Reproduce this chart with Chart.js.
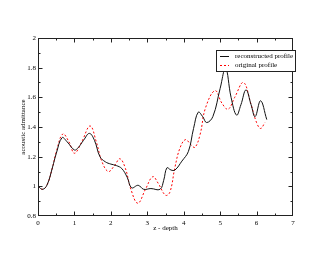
<!DOCTYPE html>
<html><head><meta charset="utf-8">
<script src="https://cdn.jsdelivr.net/npm/chart.js@4"></script>
<style>html,body{margin:0;padding:0;background:#fff}#wrap{width:330px;height:255px}</style>
</head><body><div id="wrap"><canvas id="c" width="330" height="255"></canvas></div>
<script>
const xTicks = [0,1,2,3,4,5,6,7];
const yTicks = [0.8,1,1.2,1.4,1.6,1.8,2];
const reconZ = [0,0.13,0.25,0.4,0.5,0.66,0.8,1.0,1.1,1.25,1.41,1.55,1.7,1.85,2.0,2.15,2.3,2.45,2.57,2.75,2.9,3.1,3.35,3.45,3.54,3.65,3.76,3.95,4.13,4.27,4.4,4.52,4.63,4.8,5.0,5.15,5.3,5.45,5.57,5.71,5.85,5.96,6.11,6.28];
const reconV = [1.0,0.98,1.01,1.13,1.22,1.328,1.30,1.245,1.26,1.31,1.357,1.31,1.2,1.165,1.15,1.14,1.12,1.06,0.99,1.007,0.98,0.985,0.98,1.04,1.125,1.11,1.11,1.17,1.236,1.39,1.50,1.47,1.43,1.47,1.66,1.796,1.60,1.48,1.55,1.65,1.55,1.47,1.577,1.45];
const origZ = [0,0.13,0.25,0.4,0.5,0.68,0.85,1.0,1.2,1.43,1.6,1.75,1.93,2.1,2.25,2.4,2.55,2.74,2.95,3.15,3.3,3.5,3.62,3.76,3.9,4.05,4.2,4.31,4.45,4.6,4.86,5.05,5.22,5.4,5.64,5.85,6.0,6.11,6.23];
const origV = [1.0,0.98,1.01,1.13,1.23,1.353,1.30,1.223,1.30,1.407,1.30,1.17,1.10,1.14,1.186,1.12,0.98,0.886,0.98,1.065,1.02,0.94,0.96,1.13,1.26,1.315,1.28,1.263,1.35,1.53,1.645,1.56,1.52,1.60,1.70,1.55,1.43,1.39,1.43];
const seriesLabels = ['reconstructed profile','original profile'];

const serif = "'Liberation Serif','DejaVu Serif',serif";
const pts = (zs, vs) => zs.map((z,i)=>({x:z,y:vs[i]}));

const framePlugin = {
  id:'frame',
  afterDraw(chart){
    const {ctx, scales:{x,y}} = chart;
    const L0=Math.round(x.getPixelForValue(x.min))+0.5, R0=Math.round(x.getPixelForValue(x.max))-0.5;
    const T0=Math.round(y.getPixelForValue(y.max))+0.5, B0=Math.round(y.getPixelForValue(y.min))-0.5;
    ctx.save();
    ctx.strokeStyle='#222'; ctx.lineWidth=1;
    ctx.strokeRect(L0,T0,R0-L0,B0-T0);
    ctx.beginPath();
    for(let i=0;i<=14;i++){
      const v=x.min+i*0.5;
      let p=Math.round(x.getPixelForValue(v))+0.5;
      if(i===14) p=R0;
      const L = i%2===0 ? 4 : 2;
      ctx.moveTo(p,B0); ctx.lineTo(p,B0-L);
      ctx.moveTo(p,T0); ctx.lineTo(p,T0+L);
    }
    for(let i=0;i<=12;i++){
      const v=y.min+i*0.1;
      let p=Math.round(y.getPixelForValue(v))+0.5;
      if(i===0) p=B0;
      const L = i%2===0 ? 4 : 2;
      ctx.moveTo(L0,p); ctx.lineTo(L0+L,p);
      ctx.moveTo(R0,p); ctx.lineTo(R0-L,p);
    }
    ctx.stroke();
    // legend
    const bx=216.5, by=50.5, bw=79, bh=21;
    ctx.fillStyle='#fff'; ctx.fillRect(bx,by,bw,bh);
    ctx.strokeStyle='#222'; ctx.strokeRect(bx,by,bw,bh);
    ctx.font='7px '+serif; ctx.textBaseline='middle'; ctx.fillStyle='#000';
    chart.data.datasets.forEach((ds,i)=>{
      const yy = 56.5 + i*9;
      ctx.beginPath(); ctx.strokeStyle=ds.borderColor; ctx.lineWidth=1;
      ctx.setLineDash(ds.borderDash||[]);
      ctx.moveTo(220,yy); ctx.lineTo(229,yy); ctx.stroke();
      ctx.setLineDash([]);
      ctx.fillText(ds.label, 235, yy);
    });
    ctx.restore();
  }
};

new Chart(document.getElementById('c'),{
  type:'line',
  data:{datasets:[
    {label:seriesLabels[0], data:pts(reconZ,reconV), borderColor:'#111', borderWidth:1, pointRadius:0, tension:0.4, fill:false},
    {label:seriesLabels[1], data:pts(origZ,origV), borderColor:'#ff0000', borderWidth:1, borderDash:[2,2], pointRadius:0, tension:0.4, fill:false}
  ]},
  options:{
    responsive:false, animation:false, devicePixelRatio:1,
    layout:{padding:{top:38,right:37,left:0,bottom:0}},
    plugins:{legend:{display:false},tooltip:{enabled:false}},
    scales:{
      x:{type:'linear', min:0, max:7,
        afterBuildTicks(s){s.ticks=xTicks.map(v=>({value:v}));},
        afterFit(s){s.height=39;},
        grid:{display:false, drawTicks:false}, border:{display:false},
        ticks:{padding:3, color:'#000', font:{family:serif,size:7}, maxRotation:0, autoSkip:false, callback:v=>String(+(+v).toFixed(1))},
        title:{display:true, text:'z - depth', color:'#000', font:{family:serif,size:7}, padding:{top:0,bottom:22.8}}
      },
      y:{type:'linear', min:0.8, max:2,
        afterBuildTicks(s){s.ticks=yTicks.map(v=>({value:v}));},
        afterFit(s){s.width=38;},
        grid:{display:false, drawTicks:false}, border:{display:false},
        ticks:{padding:2, color:'#000', font:{family:serif,size:7}, autoSkip:false, callback:v=>String(+(+v).toFixed(1))},
        title:{display:true, text:'acoustic admittance', color:'#000', font:{family:serif,size:7}, padding:{top:19,bottom:0}}
      }
    }
  },
  plugins:[framePlugin]
});
</script></body></html>
